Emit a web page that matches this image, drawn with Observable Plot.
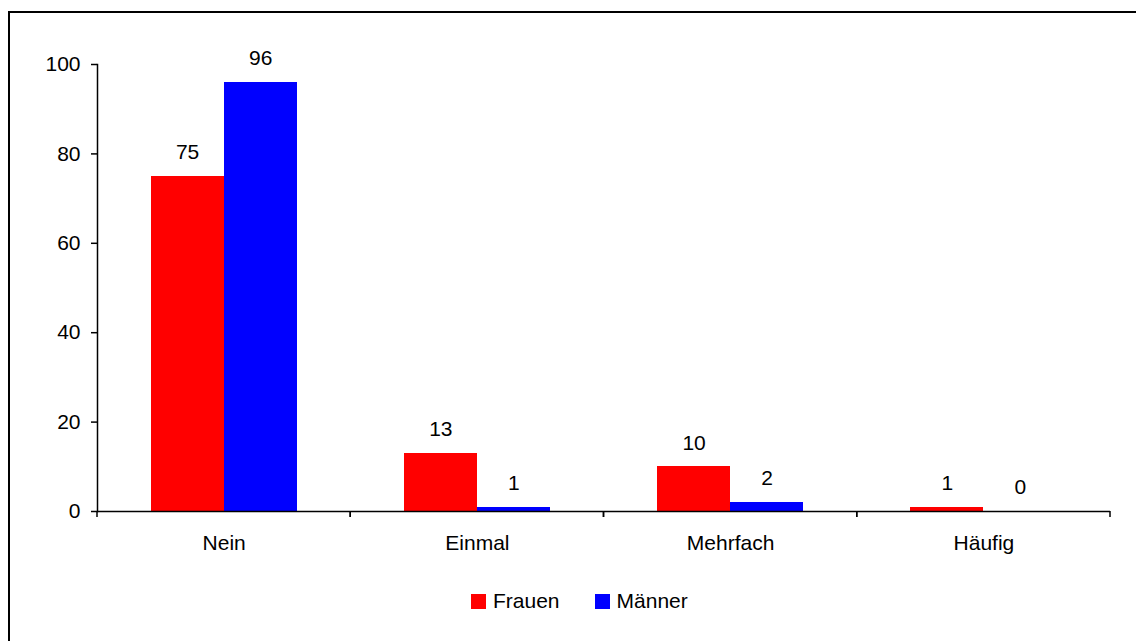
<!DOCTYPE html>
<html><head><meta charset="utf-8">
<script src="https://cdn.jsdelivr.net/npm/d3@7"></script>
<script src="https://cdn.jsdelivr.net/npm/@observablehq/plot@0.6"></script>
<style>
html,body{margin:0;padding:0;overflow:hidden;background:#fff;}
#frame{position:absolute;left:8px;top:11px;width:1200px;height:700px;border-left:2px solid #000;border-top:2px solid #000;}
#chart{position:absolute;left:0;top:0;}
#legend{position:absolute;left:461px;top:576px;display:flex;align-items:center;font:21px "Liberation Sans",Arial,sans-serif;color:#000;}
.item{display:flex;align-items:center;margin-right:35px;}
.sw{width:15px;height:15px;margin-right:7px;}
</style>
</head><body>
<div id="frame"><div id="chart"></div><div id="legend"></div></div>
<script>
const categories = ["Nein", "Einmal", "Mehrfach", "Häufig"];
const series = ["Frauen", "Männer"];
const frauen = [75, 13, 10, 1];
const maenner = [96, 1, 2, 0];
const colors = ["#ff0000", "#0000ff"];
const yTicks = [0, 20, 40, 60, 80, 100];

const values = [frauen, maenner];
const data = [];
categories.forEach((c, i) => series.forEach((s, j) => data.push({category: c, series: s, value: values[j][i]})));

function boundaryTicks(index, scales, vals, dimensions) {
  const r = scales.x && scales.x.range ? scales.x.range() : [dimensions.marginLeft, dimensions.width - dimensions.marginRight];
  const y0 = scales.y(0);
  const g = d3.create("svg:g");
  for (const x of r) {
    g.append("line").attr("x1", x).attr("x2", x).attr("y1", y0).attr("y2", y0 + 6)
      .attr("stroke", "#000").attr("stroke-width", 1.5);
  }
  return g.node();
}

const chart = Plot.plot({
  width: 1126,
  height: 560,
  marginLeft: 87,
  marginRight: 26,
  marginTop: 51,
  marginBottom: 62,
  style: {fontFamily: "'Liberation Sans', Arial, sans-serif", fontSize: "21px", color: "#000", background: "transparent"},
  fx: {domain: categories, padding: 0, round: false},
  x: {domain: series, paddingInner: 0, paddingOuter: 0.734, axis: null, round: false},
  y: {domain: [0, 100]},
  color: {domain: series, range: colors},
  marks: [
    Plot.barY(data, {fx: "category", x: "series", y: "value", fill: "series", shapeRendering: "crispEdges"}),
    Plot.text(data, {fx: "category", x: "series", y: "value", text: d => String(d.value), dy: -24, fill: "#000"}),
    Plot.ruleY([0], {stroke: "#000", strokeWidth: 1.5}),
    Plot.frame({anchor: "left", facetAnchor: "left", stroke: "#000", strokeWidth: 1.5}),
    boundaryTicks,
    Plot.axisY({ticks: yTicks, tickSize: 6, tickPadding: 11, label: null, tickFormat: d => String(d), strokeWidth: 1.5}),
    Plot.axisFx({anchor: "bottom", tickSize: 0, tickPadding: 24, label: null})
  ]
});
document.getElementById("chart").appendChild(chart);

const legend = d3.select("#legend");
series.forEach((s, i) => {
  const it = legend.append("div").attr("class", "item");
  it.append("div").attr("class", "sw").style("background", colors[i]);
  it.append("span").text(s);
});
</script>
</body></html>
